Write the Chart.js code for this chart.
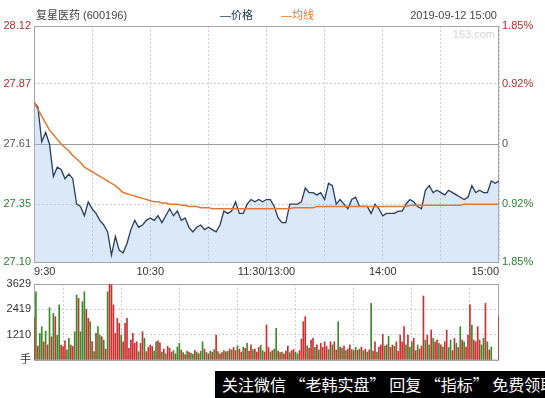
<!DOCTYPE html>
<html>
<head>
<meta charset="utf-8">
<script src="https://cdn.jsdelivr.net/npm/chart.js@4.4.1/dist/chart.umd.min.js"></script>
<style>
  body { margin: 0; background: #fff; }
  #wrap { position: relative; width: 545px; height: 398px; overflow: hidden; font-family: "Liberation Sans", "Noto Sans CJK SC", sans-serif; }
  #wrap canvas { position: absolute; left: 0; }
  .lbl { position: absolute; font-size: 11px; line-height: 14px; white-space: nowrap; }
  #banner { position: absolute; left: 215px; top: 371px; width: 330px; height: 27px; background: #000; color: #fff;
    font-family: "Noto Sans CJK SC", sans-serif; font-size: 16px; line-height: 27px; padding-left: 7px; box-sizing: border-box; white-space: pre; overflow: hidden; }
</style>
</head>
<body>
<div id="wrap">
  <canvas id="priceChart" width="545" height="280" style="top:0"></canvas>
  <canvas id="volumeChart" width="545" height="100" style="top:270px"></canvas>
  <div class="lbl" style="left:36px;top:8px;color:#444">复星医药 (600196)</div>
  <div class="lbl" style="left:220px;top:8px;color:#22385a">—价格</div>
  <div class="lbl" style="left:281px;top:8px;color:#e0782e">—均线</div>
  <div class="lbl" style="right:48px;top:8px;color:#444">2019-09-12 15:00</div>
  <div class="lbl" style="right:50px;top:27px;color:#d4d4d4">163.com</div>
  <div id="banner">关注微信 “老韩实盘” 回复 “指标” 免费领取</div>
</div>
<script>
// minutes between price points
const STEP = 2;

const timeLabels = ["9:30", "", "10:30", "", "11:30/13:00", "", "14:00", "", "15:00"];
const priceTicks = [27.10, 27.35, 27.61, 27.87, 28.12];
const pctTicks = ["1.85%", "0.92%", "0", "0.92%", "1.85%"];
const tickColors = ["#2f7d32", "#2f7d32", "#555555", "#a8302c", "#a8302c"];
const volTicks = [0, 1210, 2419, 3629];
const preClose = 27.61;

const prices = [
  27.79, 27.77, 27.62, 27.66, 27.61, 27.47, 27.51, 27.50, 27.46, 27.48,
  27.46, 27.35, 27.34, 27.30, 27.36, 27.33, 27.31, 27.28, 27.26, 27.23,
  27.13, 27.21, 27.15, 27.14, 27.18, 27.24, 27.28, 27.25, 27.26, 27.28,
  27.29, 27.28, 27.30, 27.27, 27.30, 27.33, 27.30, 27.32, 27.28, 27.29,
  27.25, 27.23, 27.25, 27.26, 27.24, 27.25, 27.24, 27.23, 27.26, 27.32,
  27.31, 27.32, 27.36, 27.31, 27.31, 27.35, 27.37, 27.36, 27.37, 27.36,
  27.37, 27.37, 27.34, 27.29, 27.27, 27.27, 27.35, 27.35, 27.35, 27.36,
  27.42, 27.40, 27.40, 27.39, 27.40, 27.37, 27.44, 27.43, 27.35, 27.37,
  27.35, 27.33, 27.37, 27.38, 27.34, 27.34, 27.34, 27.31, 27.35, 27.33,
  27.30, 27.31, 27.31, 27.31, 27.32, 27.32, 27.35, 27.37, 27.36, 27.34,
  27.33, 27.41, 27.43, 27.40, 27.41, 27.40, 27.39, 27.41, 27.40, 27.39,
  27.38, 27.37, 27.38, 27.43, 27.40, 27.41, 27.40, 27.40, 27.45, 27.44,
  27.45
];

const avgPrices = [
  27.79, 27.76, 27.73, 27.70, 27.67, 27.65, 27.63, 27.61, 27.595, 27.58,
  27.56, 27.545, 27.53, 27.51, 27.50, 27.49, 27.48, 27.47, 27.46, 27.45,
  27.44, 27.43, 27.415, 27.40, 27.395, 27.39, 27.385, 27.38, 27.375, 27.37,
  27.365, 27.36, 27.36, 27.355, 27.355, 27.35, 27.35, 27.35, 27.345, 27.345,
  27.34, 27.34, 27.34, 27.335, 27.335, 27.335, 27.33, 27.33, 27.33, 27.33,
  27.33, 27.33, 27.33, 27.33, 27.33, 27.33, 27.33, 27.33, 27.33, 27.33,
  27.33, 27.33, 27.33, 27.33, 27.33, 27.33, 27.33, 27.335, 27.335, 27.335,
  27.335, 27.335, 27.335, 27.34, 27.34, 27.34, 27.34, 27.34, 27.34, 27.34,
  27.34, 27.34, 27.34, 27.34, 27.34, 27.34, 27.34, 27.34, 27.34, 27.34,
  27.34, 27.34, 27.34, 27.34, 27.34, 27.34, 27.34, 27.345, 27.345, 27.345,
  27.345, 27.345, 27.345, 27.345, 27.345, 27.345, 27.345, 27.345, 27.345, 27.345,
  27.345, 27.35, 27.35, 27.35, 27.35, 27.35, 27.35, 27.35, 27.35, 27.35,
  27.35
];

// one bar per minute, 9:30 .. 15:00
const volumes = [
  2040, 3260, 670, 1270, 1590, 870, 1380, 715, 2500, 1110,
  2230, 2070, 1190, 2630, 715, 640, 920, 480, 1035, 715,
  650, 1350, 3100, 2945, 1350, 2785, 3260, 2420, 1990, 1830,
  875, 400, 1270, 1590, 1190, 1110, 955, 520, 3260, 3629,
  3580, 2630, 1270, 1990, 1750, 1190, 870, 1750, 1990, 560,
  955, 1270, 795, 870, 400, 795, 1350, 1035, 400, 600,
  715, 650, 420, 870, 920, 820, 380, 520, 300, 650,
  560, 380, 450, 300, 620, 795, 480, 350, 260, 420,
  380, 330, 280, 460, 380, 300, 420, 870, 520, 360,
  300, 420, 380, 500, 1190, 400, 300, 350, 450, 400,
  420, 520, 480, 600, 450, 680, 520, 380, 620, 560,
  795, 420, 720, 500, 520, 380, 600, 700, 450, 380,
  1670, 600, 380, 450, 520, 1510, 420, 360, 380, 300,
  420, 670, 350, 450, 500, 380, 300, 450, 1000, 1830,
  2070, 680, 560, 955, 1035, 600, 720, 480, 795, 600,
  870, 650, 500, 870, 720, 870, 480, 1830, 620, 560,
  670, 450, 520, 720, 500, 450, 600, 470, 520, 620,
  450, 520, 380, 480, 2710, 420, 870, 380, 620, 720,
  1220, 670, 720, 1140, 600, 720, 650, 870, 420, 1190,
  870, 1590, 720, 1190, 600, 870, 1035, 450, 720, 520,
  670, 3055, 955, 1190, 720, 1430, 1035, 870, 955, 795,
  720, 620, 870, 1430, 600, 955, 450, 1035, 795, 600,
  1590, 955, 870, 620, 1190, 2630, 1670, 955, 870, 1590,
  955, 720, 1035, 2710, 870, 480, 620, 0, 0, 0,
  2070
];

// R = up minute, G = down minute
const volDir =
  "RGRGGRGRGR" + "GRGGRRRGGR" + "RGGRGGGRRG" + "RGRGGRGRGR" +
  "RRRRRGRRRR" + "RRRRGRRGRR" + "RRGGRRGRGR" + "RRGRGGRGRG" +
  "RGGRGRGGRG" + "RGRGRGRRGR" + "GRGRRGRRGR" + "GRRGRRRGGR" +
  "RRGRGGRRGR" + "RRGRRGGRRR" + "RGRRRGRGRR" + "RRGRGRRGRG" +
  "RGRRGRGRGR" + "GRGRGRRGRR" + "RGRGRRGRRR" + "RRGRGGRRGR" +
  "RRGRGRGRRG" + "RGRRGGRRGR" + "GRGRRRGRRR" + "RGGRGRGRRR" + "R";

// grey box round the plot, drawn under the data
const frame = {
  id: "frame",
  beforeDatasetsDraw(chart) {
    const a = chart.chartArea;
    const c = chart.ctx;
    c.save();
    c.strokeStyle = "#a6a6a6";
    c.lineWidth = 1;
    c.strokeRect(Math.round(a.left) + 0.5, Math.round(a.top) + 0.5,
      Math.round(a.right - a.left) - 1, Math.round(a.bottom - a.top));
    c.restore();
  },
};

const timeAxis = (showLabels, height) => ({
  type: "linear",
  min: 0,
  max: 240,
  offset: false,
  afterBuildTicks: (axis) => {
    axis.ticks = timeLabels.map((t, i) => ({ value: i * 30 }));
  },
  afterFit: (axis) => {
    axis.height = height;
  },
  ticks: {
    display: showLabels,
    autoSkip: false,
    maxRotation: 0,
    align: "inner",
    padding: 3,
    color: "#333",
    font: { size: 11, family: "Liberation Sans" },
    callback: (v, i) => timeLabels[i],
  },
  grid: { color: "#cfcfcf", drawTicks: false },
  border: { display: false, dash: [2, 2] },
});

new Chart(document.getElementById("priceChart").getContext("2d"), {
  type: "line",
  data: {
    datasets: [
      {
        label: "价格",
        data: prices.map((p, i) => ({ x: i * STEP, y: p })),
        borderColor: "#2a3d5c",
        borderWidth: 1.3,
        pointRadius: 0,
        fill: "start",
        backgroundColor: "rgba(150,190,235,0.35)",
        order: 1,
      },
      {
        label: "均线",
        data: avgPrices.map((p, i) => ({ x: i * STEP, y: p })),
        borderColor: "#dd7a36",
        borderWidth: 1.5,
        pointRadius: 0,
        fill: false,
        order: 0,
      },
    ],
  },
  options: {
    responsive: false,
    animation: false,
    devicePixelRatio: 1,
    layout: { padding: { top: 26, left: 0, right: 0, bottom: 0 } },
    plugins: { legend: { display: false }, tooltip: { enabled: false } },
    scales: {
      x: timeAxis(true, 18),
      y: {
        position: "left",
        min: priceTicks[0],
        max: priceTicks[priceTicks.length - 1],
        afterBuildTicks: (axis) => {
          axis.ticks = priceTicks.map((v) => ({ value: v }));
        },
        afterFit: (axis) => {
          axis.width = 34;
        },
        ticks: {
          padding: 3,
          font: { size: 11, family: "Liberation Sans" },
          color: (ctx) => tickColors[ctx.index],
          callback: (v) => v.toFixed(2),
        },
        grid: {
          drawTicks: false,
          color: (ctx) => (ctx.tick && ctx.tick.value === preClose ? "#9c9c9c" : "#cfcfcf"),
        },
        border: {
          display: false,
          dash: (ctx) => (ctx.tick && ctx.tick.value === preClose ? [] : [2, 2]),
        },
      },
      y1: {
        position: "right",
        min: priceTicks[0],
        max: priceTicks[priceTicks.length - 1],
        afterBuildTicks: (axis) => {
          axis.ticks = priceTicks.map((v) => ({ value: v }));
        },
        afterFit: (axis) => {
          axis.width = 46;
        },
        ticks: {
          padding: 3,
          font: { size: 11, family: "Liberation Sans" },
          color: (ctx) => tickColors[ctx.index],
          callback: (v, i) => pctTicks[i],
        },
        grid: { display: false, drawTicks: false },
        border: { display: false },
      },
    },
  },
  plugins: [frame],
});

new Chart(document.getElementById("volumeChart").getContext("2d"), {
  type: "bar",
  data: {
    datasets: [
      {
        label: "成交量",
        data: volumes.map((v, i) => ({ x: i, y: v })),
        backgroundColor: volumes.map((v, i) => (volDir[i] === "R" ? "#cc3030" : "#3a8a2c")),
        barThickness: 1,
      },
    ],
  },
  options: {
    responsive: false,
    animation: false,
    devicePixelRatio: 1,
    layout: { padding: { top: 14, left: 0, right: 46, bottom: 0 } },
    plugins: { legend: { display: false }, tooltip: { enabled: false } },
    scales: {
      x: timeAxis(false, 10),
      y: {
        min: 0,
        max: volTicks[volTicks.length - 1],
        afterBuildTicks: (axis) => {
          axis.ticks = volTicks.map((v) => ({ value: v }));
        },
        afterFit: (axis) => {
          axis.width = 34;
        },
        ticks: {
          padding: 3,
          color: "#333",
          font: { size: 11, family: "Liberation Sans, Noto Sans CJK SC" },
          callback: (v) => (v === 0 ? "手" : v),
        },
        grid: { color: "#cfcfcf", drawTicks: false },
        border: { display: false, dash: [2, 2] },
      },
    },
  },
  plugins: [frame],
});
</script>
</body>
</html>
